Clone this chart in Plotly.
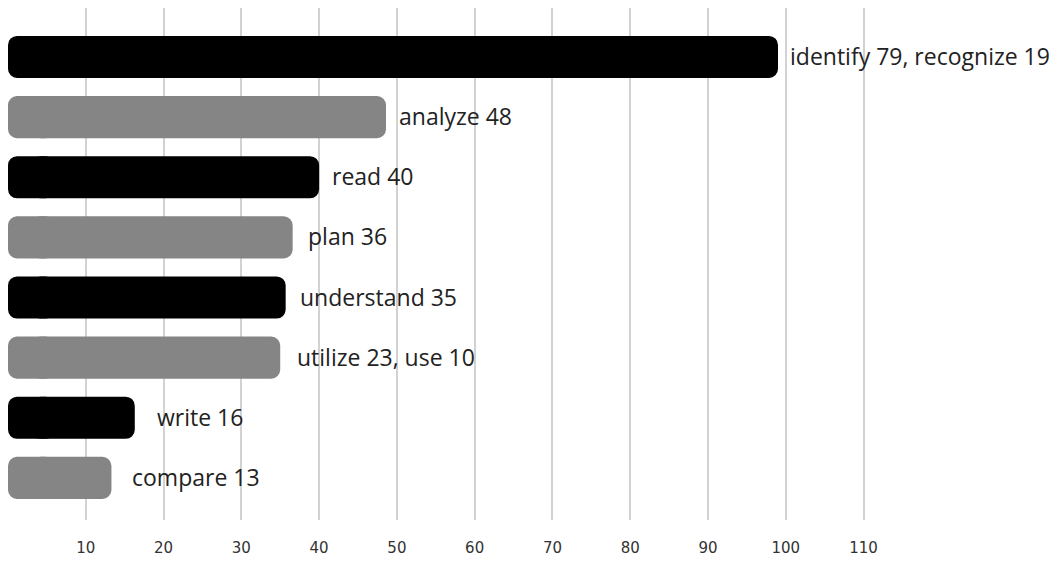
import plotly.graph_objects as go

labels = ["identify 79, recognize 19", "analyze 48", "read 40", "plan 36",
          "understand 35", "utilize 23, use 10", "write 16", "compare 13"]
values = [99, 48.6, 40, 36.6, 35.7, 35.0, 16.3, 13.3]
colors = ["#000000", "#858585", "#000000", "#858585",
          "#000000", "#858585", "#000000", "#858585"]
label_gap_px = [10, 11, 11, 13, 12, 15, 20, 19]
tick_vals = [10, 20, 30, 40, 50, 60, 70, 80, 90, 100, 110]

CAP = 6.0  # length (axis units) of the left cap piece used to round the left end

ypos = list(range(len(values)))

fig = go.Figure()
# left cap piece, drawn from CAP back to 0 so its rounded end is at 0
fig.add_trace(go.Bar(
    x=[-CAP] * len(values), base=[CAP] * len(values),
    y=ypos, orientation="h",
    marker=dict(color=colors, cornerradius=9, line=dict(width=0)),
    width=0.7, hoverinfo="skip",
))
# main bar piece, rounded at its right end
fig.add_trace(go.Bar(
    x=[v - CAP / 2 for v in values], base=[CAP / 2] * len(values),
    y=ypos, orientation="h",
    marker=dict(color=colors, cornerradius=9, line=dict(width=0)),
    width=0.7, hoverinfo="skip",
))

for v, y, t, g in zip(values, ypos, labels, label_gap_px):
    fig.add_annotation(x=v, y=y, text=t, showarrow=False, xanchor="left",
                       yanchor="middle", xshift=g, yshift=1,
                       font=dict(family="Open Sans", size=23, color="#222222"))

fig.update_layout(
    width=1060, height=571,
    margin=dict(l=8, r=2, t=8, b=51),
    paper_bgcolor="white", plot_bgcolor="white",
    showlegend=False, barmode="overlay",
    xaxis=dict(range=[0, 135], tickvals=tick_vals, showgrid=True,
               gridcolor="#d2d2d2", gridwidth=1.5, zeroline=False,
               showline=False, ticks="outside", ticklen=0,
               ticklabelstandoff=14,
               tickfont=dict(family="DejaVu Sans", size=15, color="#333333")),
    yaxis=dict(range=[7.70, -0.814], showticklabels=False, showgrid=False,
               zeroline=False, showline=False),
)

fig.write_html("out.html")
